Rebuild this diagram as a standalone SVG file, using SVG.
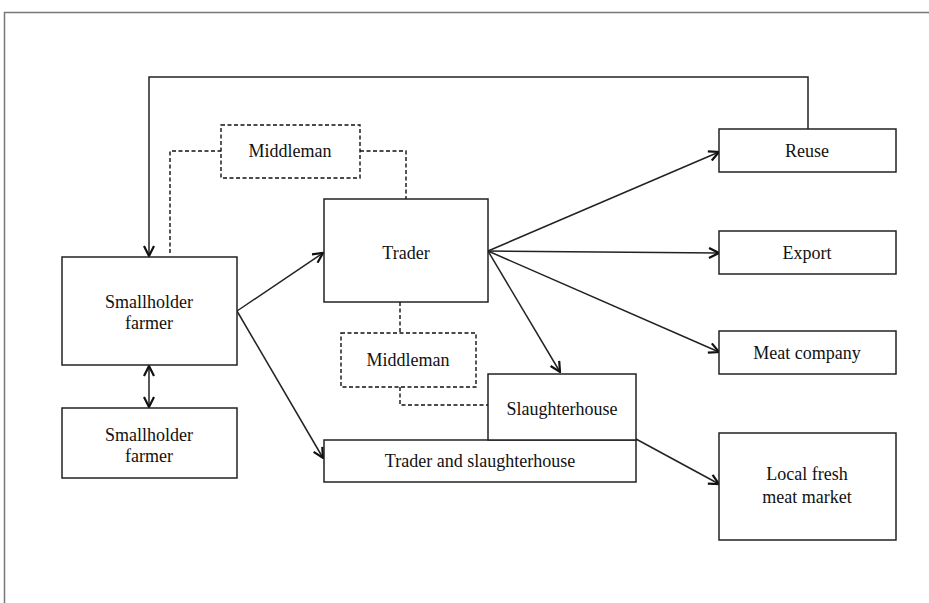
<svg xmlns="http://www.w3.org/2000/svg" width="929" height="603" viewBox="0 0 929 603">
<style>
.box{fill:#fff;stroke:#222;stroke-width:1.5}
.dbox{fill:#fff;stroke:#111;stroke-width:1.4;stroke-dasharray:4 2.5}
.t{font-family:"Liberation Serif","Times New Roman",serif;font-size:18px;fill:#111;text-anchor:middle}
.c{fill:none;stroke:#222;stroke-width:1.5}
.d{fill:none;stroke:#111;stroke-width:1.4;stroke-dasharray:4 2.5}
</style>
<defs>
<marker id="ah" viewBox="0 0 12 12" refX="11" refY="6" markerWidth="12" markerHeight="12" markerUnits="userSpaceOnUse" orient="auto-start-reverse">
<path d="M1,1 L11,6 L1,11" fill="none" stroke="#111" stroke-width="2.2"/>
</marker>
</defs>
<rect width="929" height="603" fill="#fff"/>
<path d="M4.5,603 V12.5 H929" fill="none" stroke="#777" stroke-width="1.5"/>
<g id="connectors">
<path class="c" d="M808,129 V77 H149 V256" marker-end="url(#ah)"/>
<path class="c" d="M149,366 V407" marker-start="url(#ah)" marker-end="url(#ah)"/>
<path class="c" d="M237,311 L323,253" marker-end="url(#ah)"/>
<path class="c" d="M237,311 L323,458" marker-end="url(#ah)"/>
<path class="c" d="M488,251 L719,152" marker-end="url(#ah)"/>
<path class="c" d="M488,251 L719,253" marker-end="url(#ah)"/>
<path class="c" d="M488,251 L719,352" marker-end="url(#ah)"/>
<path class="c" d="M488,251 L560,372" marker-end="url(#ah)"/>
<path class="c" d="M636,439 L719,484" marker-end="url(#ah)"/>
<path class="d" d="M170,253 V151 H221"/>
<path class="d" d="M360,151 H406 V199"/>
<path class="d" d="M400,302 V333"/>
<path class="d" d="M400,387 V405 H488"/>
</g>
<g id="smallholder1"><rect class="box" x="62" y="257" width="175" height="108"/><text class="t" x="149" y="308">Smallholder</text><text class="t" x="149" y="329">farmer</text></g>
<g id="smallholder2"><rect class="box" x="62" y="408" width="175" height="70"/><text class="t" x="149" y="441">Smallholder</text><text class="t" x="149" y="462">farmer</text></g>
<g id="middleman1"><rect class="dbox" x="221" y="125" width="139" height="53"/><text class="t" x="290" y="157">Middleman</text></g>
<g id="trader"><rect class="box" x="324" y="199" width="164" height="103"/><text class="t" x="406" y="259">Trader</text></g>
<g id="middleman2"><rect class="dbox" x="341" y="333" width="135" height="54"/><text class="t" x="408" y="366">Middleman</text></g>
<g id="trader-slaughterhouse"><rect class="box" x="324" y="440" width="312" height="42"/><text class="t" x="480" y="467">Trader and slaughterhouse</text></g>
<g id="slaughterhouse"><rect class="box" x="488" y="374" width="148" height="66"/><text class="t" x="562" y="415">Slaughterhouse</text></g>
<g id="reuse"><rect class="box" x="719" y="129" width="177" height="43"/><text class="t" x="807" y="157">Reuse</text></g>
<g id="export"><rect class="box" x="719" y="231" width="177" height="43"/><text class="t" x="807" y="259">Export</text></g>
<g id="meat-company"><rect class="box" x="719" y="331" width="177" height="43"/><text class="t" x="807" y="359">Meat company</text></g>
<g id="local-market"><rect class="box" x="719" y="433" width="177" height="107"/><text class="t" x="807" y="480">Local fresh</text><text class="t" x="807" y="503">meat market</text></g>
</svg>
